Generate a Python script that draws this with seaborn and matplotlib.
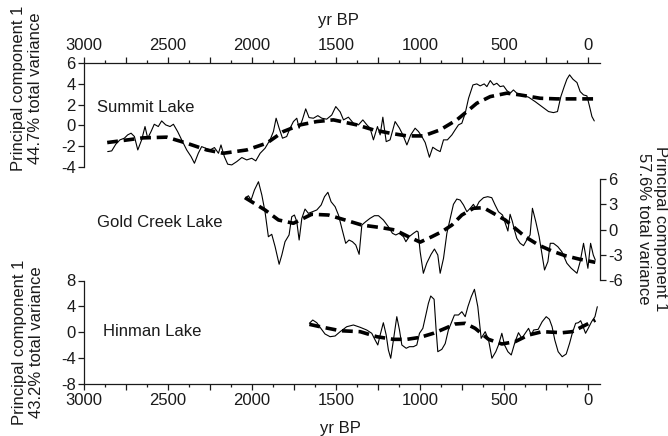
import matplotlib
matplotlib.use("Agg")
import matplotlib.pyplot as plt
import seaborn as sns
from matplotlib.ticker import MultipleLocator, FuncFormatter, FixedLocator

# ---------------- data ----------------
summit_yr = [2859, 2835, 2811, 2786, 2760, 2740, 2720, 2700, 2680, 2657, 2637, 2621, 2601, 2582,
             2558, 2538, 2514, 2488, 2468, 2443, 2419, 2389, 2363, 2343, 2320, 2300, 2276, 2250,
             2224, 2200, 2185, 2165, 2145, 2121, 2091, 2061, 2032, 2002, 1978, 1952, 1923, 1893,
             1873, 1857, 1839, 1819, 1794, 1774, 1754, 1734, 1720, 1701, 1681, 1661, 1635, 1609,
             1585, 1556, 1526, 1502, 1476, 1456, 1427, 1397, 1367, 1341, 1317, 1298, 1278, 1254,
             1238, 1222, 1202, 1179, 1149, 1123, 1103, 1079, 1056, 1030, 1010, 990, 970, 945, 925,
             901, 881, 861, 838, 811, 792, 772, 752, 732, 712, 686, 663, 643, 619, 603, 583, 563,
             544, 524, 504, 484, 464, 445, 425, 395, 355, 316, 276, 236, 207, 183, 163, 143, 127,
             111, 91, 67, 48, 28, 8, -8, -22, -36]
summit_pc = [-2.52, -2.45, -1.81, -1.39, -1.23, -0.91, -0.75, -1.07, -2.36, -1.39, -0.11, -1.23,
             -0.59, 0.11, -0.11, 0.43, 0.05, -0.11, 0.11, -0.59, -1.39, -2.36, -3.0, -3.64, -2.68,
             -2.04, -2.2, -2.36, -2.13, -2.68, -1.88, -3.0, -3.73, -3.8, -3.48, -3.09, -3.32,
             -3.16, -3.41, -2.68, -2.2, -1.39, -0.59, 0.69, -0.27, -1.23, -1.07, -0.27, 0.37, 0.69,
             -0.27, 0.53, 1.59, 0.75, 0.69, 0.94, 0.69, 0.6, 1.0, 1.81, 1.3, 0.53, 0.79, 0.21,
             0.05, 0.53, 0.05, -0.27, -1.39, -0.11, -0.91, 0.79, -1.56, -1.39, 0.37, -0.27, -0.91,
             -1.88, -0.91, -0.27, -0.59, -1.07, -1.65, -3.06, -2.1, -2.36, -2.52, -1.39, -1.39,
             -0.91, -0.43, 0.05, 0.21, 1.17, 2.61, 3.89, 3.99, 3.8, 3.99, 3.73, 4.31, 3.89, 4.05,
             3.73, 3.8, 3.35, 3.1, 3.41, 3.1, 2.93, 2.71, 2.29, 1.81, 1.33, 1.23, 1.33, 2.77, 3.73,
             4.44, 4.86, 4.44, 4.12, 3.25, 2.93, 2.84, 1.81, 0.85, 0.43]
summit_trend_yr = [2862, 2649, 2508, 2389, 2270, 2171, 2032, 1913, 1814, 1714, 1615, 1516, 1377,
                   1278, 1179, 1079, 980, 881, 782, 722, 663, 583, 484, 405, 286, 187, 88, -41]
summit_trend = [-1.65, -1.2, -1.13, -1.71, -2.36, -2.68, -2.36, -1.71, -0.59, 0.05, 0.37, 0.53,
                0.05, -0.43, -0.75, -1.01, -1.01, -0.43, 0.53, 1.33, 2.13, 2.77, 3.1, 2.93, 2.61,
                2.55, 2.55, 2.55]

gold_yr = [2042, 2022, 2006, 1986, 1962, 1942, 1923, 1903, 1883, 1863, 1839, 1823, 1804, 1780,
           1764, 1748, 1734, 1720, 1704, 1685, 1665, 1641, 1615, 1589, 1569, 1549, 1530, 1506,
           1486, 1466, 1443, 1423, 1403, 1383, 1363, 1347, 1324, 1298, 1272, 1248, 1219, 1189,
           1165, 1145, 1125, 1099, 1085, 1066, 1040, 1020, 1012, 1000, 981, 961, 935, 915, 895,
           881, 861, 841, 821, 802, 782, 762, 742, 722, 702, 683, 669, 649, 623, 598, 574, 554,
           534, 510, 490, 478, 465, 451, 439, 425, 405, 385, 366, 346, 332, 312, 292, 276, 260,
           240, 226, 207, 181, 157, 127, 101, 67, 48, 28, 14, 2, -14, -30, -42]
gold_pc = [3.7, 4.01, 3.5, 4.69, 5.68, 4.1, 2.11, -0.86, -0.57, -2.04, -4.13, -3.03, -1.45, -0.65,
           1.52, 1.72, 0.93, -1.25, 1.33, 2.43, 1.92, 2.11, 2.32, 2.91, 3.9, 4.42, 3.3, 2.71, 1.72,
           0.14, -1.64, -1.25, -1.45, -1.84, -2.95, 0.53, 0.93, 1.33, 1.64, 1.64, 1.13, 0.33,
           -0.45, -0.65, -0.45, -0.86, -1.45, -0.86, -0.45, -0.18, -0.3, -2.64, -5.2, -4.01,
           -2.95, -2.32, -3.03, -5.2, -3.42, -0.45, 1.33, 2.99, 3.62, 3.5, 2.91, 2.11, 2.52, 2.99,
           2.52, 3.3, 3.78, 3.9, 3.78, 2.91, 2.11, 1.72, 0.53, -0.18, 1.81, 0.93, -0.06, -1.05,
           -1.64, -1.92, -1.25, -0.65, 2.52, 0.93, -0.86, -2.83, -4.81, -3.82, -1.64, -1.64,
           -2.04, -2.64, -4.01, -4.61, -5.2, -3.82, -1.64, -3.23, -4.61, -1.64, -3.03, -3.62]
gold_trend_yr = [2042, 1923, 1843, 1754, 1645, 1546, 1447, 1347, 1228, 1149, 1069, 1000, 931, 871,
                 811, 752, 683, 623, 554, 494, 435, 375, 296, 217, 137, 58, -42]
gold_trend = [3.78, 2.32, 1.13, 0.74, 1.81, 1.72, 1.13, 0.53, 0.21, -0.06, -0.86, -1.5, -0.86,
              -0.26, 0.53, 1.72, 2.52, 2.59, 1.81, 1.13, 0.14, -0.86, -1.84, -2.55, -3.11, -3.5,
              -3.9]

hinman_yr = [1659, 1639, 1615, 1591, 1566, 1536, 1506, 1476, 1437, 1397, 1357, 1318, 1288, 1268,
             1252, 1238, 1219, 1202, 1189, 1175, 1159, 1139, 1123, 1109, 1083, 1064, 1040, 1020,
             1004, 984, 964, 951, 937, 917, 905, 895, 871, 851, 832, 812, 796, 772, 752, 732, 716,
             696, 677, 657, 637, 613, 593, 573, 550, 534, 514, 498, 478, 458, 435, 415, 395, 375,
             355, 339, 325, 298, 274, 250, 231, 215, 199, 179, 155, 131, 111, 95, 75, 59, 45, 32,
             16, 0, -20, -40, -54]
hinman_pc = [1.35, 1.86, 1.44, 0.57, -0.31, -0.73, -0.62, 0.05, 0.82, 1.09, 0.73, 0.31, -0.2,
             -1.24, -2.02, -0.47, 1.44, -0.47, -2.8, -4.08, -1.24, 2.38, 0.31, -2.02, -2.53, -2.28,
             -2.28, -2.02, -0.2, 0.57, 2.9, 4.45, 5.59, 5.08, 0.31, -3.06, -2.69, -1.8, 0.31, 1.6,
             2.64, 2.64, 3.15, 2.38, 3.93, 5.48, 6.63, 3.93, -0.98, 0.05, -1.24, -4.08, -3.06,
             -2.02, -0.2, -2.02, -3.06, -3.57, -1.5, -0.11, -0.98, -0.2, 0.57, -0.47, 0.31, 0.41,
             1.6, 2.38, 1.97, 0.82, -1.24, -3.06, -3.84, -3.42, -1.76, -0.2, 1.35, 1.44, 1.75, 0.93,
             -0.2, 0.57, 1.6, 2.38, 3.93]
hinman_trend_yr = [1659, 1595, 1476, 1357, 1258, 1159, 1079, 1000, 921, 851, 792, 732, 673, 593,
                   514, 435, 355, 274, 155, 95, 36, -42]
hinman_trend = [1.19, 0.82, 0.2, 0.05, -0.73, -1.14, -1.14, -0.83, -0.2, 0.57, 1.24, 1.35, 0.57,
                -1.14, -1.86, -1.5, -0.47, 0.05, -0.11, 0.05, 0.82, 1.86]

lake_names = ["Summit Lake", "Gold Creek Lake", "Hinman Lake"]
axis_labels = ["Principal component 1\n44.7% total variance",
               "Principal component 1\n57.6% total variance",
               "Principal component 1\n43.2% total variance"]
x_label = "yr BP"

# ---------------- style ----------------
sns.set_style("ticks")
plt.rcParams['font.family'] = ['Liberation Sans', 'DejaVu Sans']
plt.rcParams['axes.unicode_minus'] = False
FS = 12
INK = "#1a1a1a"
plt.rcParams.update({
    "axes.edgecolor": INK, "xtick.color": INK, "ytick.color": INK, "text.color": INK,
    "axes.linewidth": 0.9, "xtick.major.width": 0.9, "ytick.major.width": 0.9,
    "xtick.minor.width": 0.9, "font.size": FS, "xtick.labelsize": FS, "ytick.labelsize": FS,
})

W, H = 668, 436
fig = plt.figure(figsize=(W / 100, H / 100), dpi=100)


def rect(x0, x1, y0, y1):
    return [x0 / W, 1 - y1 / H, (x1 - x0) / W, (y1 - y0) / H]


ax1 = fig.add_axes(rect(84, 600, 63, 167))
ax2 = fig.add_axes(rect(84, 600, 179, 280))
ax3 = fig.add_axes(rect(84, 600, 280.5, 383.5))
XLIM = (3000, -70)


def draw(ax, yr, pc, tyr, tr):
    ax.patch.set_alpha(0)
    sns.lineplot(x=yr, y=pc, ax=ax, color="black", lw=0.8, estimator=None, sort=False)
    sns.lineplot(x=tyr, y=tr, ax=ax, color="black", lw=2.6, linestyle=(0, (3.0, 1.6)),
                 estimator=None, sort=False)
    ax.set_xlim(*XLIM)
    ax.set_xlabel("")
    ax.set_ylabel("")


draw(ax1, summit_yr, summit_pc, summit_trend_yr, summit_trend)
draw(ax2, gold_yr, gold_pc, gold_trend_yr, gold_trend)
draw(ax3, hinman_yr, hinman_pc, hinman_trend_yr, hinman_trend)

ax1.set_ylim(-4, 6)
ax2.set_ylim(-6, 6)
ax3.set_ylim(-8, 8)
ax1.yaxis.set_major_locator(FixedLocator([-4, -2, 0, 2, 4, 6]))
ax2.yaxis.set_major_locator(FixedLocator([-6, -3, 0, 3, 6]))
ax3.yaxis.set_major_locator(FixedLocator([-8, -4, 0, 4, 8]))

xfmt = FuncFormatter(lambda v, p: f"{int(round(v))}" if round(v) % 500 == 0 else "")
for ax in (ax1, ax3):
    ax.xaxis.set_major_locator(MultipleLocator(250))
    ax.xaxis.set_minor_locator(MultipleLocator(125))
    ax.xaxis.set_major_formatter(xfmt)
    ax.tick_params(axis="x", which="major", length=4, direction="out", pad=3)
    ax.tick_params(axis="x", which="minor", length=2, direction="out")
    ax.tick_params(axis="y", length=4, direction="out", pad=2)

# top panel: x axis on top
for s in ("right", "bottom"):
    ax1.spines[s].set_visible(False)
ax1.xaxis.tick_top()

# middle panel: only right y axis
for s in ("left", "top", "bottom"):
    ax2.spines[s].set_visible(False)
ax2.yaxis.tick_right()
ax2.tick_params(axis="y", length=4, direction="out", pad=2)
ax2.tick_params(axis="x", which="both", bottom=False, top=False, labelbottom=False)

# bottom panel
for s in ("right", "top"):
    ax3.spines[s].set_visible(False)

# lake names
ax1.text(2923, 1.68, lake_names[0], ha="left", va="center", fontsize=FS)
ax2.text(2923, 0.89, lake_names[1], ha="left", va="center", fontsize=FS)
ax3.text(2887, 0.0, lake_names[2], ha="left", va="center", fontsize=FS)

# axis titles
fig.text(338 / W, 1 - 21 / H, x_label, ha="center", va="center", fontsize=FS)
fig.text(340 / W, 1 - 428 / H, x_label, ha="center", va="center", fontsize=FS)
fig.text(27 / W, 1 - 88 / H, axis_labels[0], ha="center", va="center", rotation=90,
         multialignment="center", fontsize=FS, linespacing=1.15)
fig.text(652 / W, 1 - 229 / H, axis_labels[1], ha="center", va="center", rotation=270,
         multialignment="center", fontsize=FS, linespacing=1.15)
fig.text(28 / W, 1 - 342 / H, axis_labels[2], ha="center", va="center", rotation=90,
         multialignment="center", fontsize=FS, linespacing=1.15)

fig.savefig("out.png", dpi=100)
